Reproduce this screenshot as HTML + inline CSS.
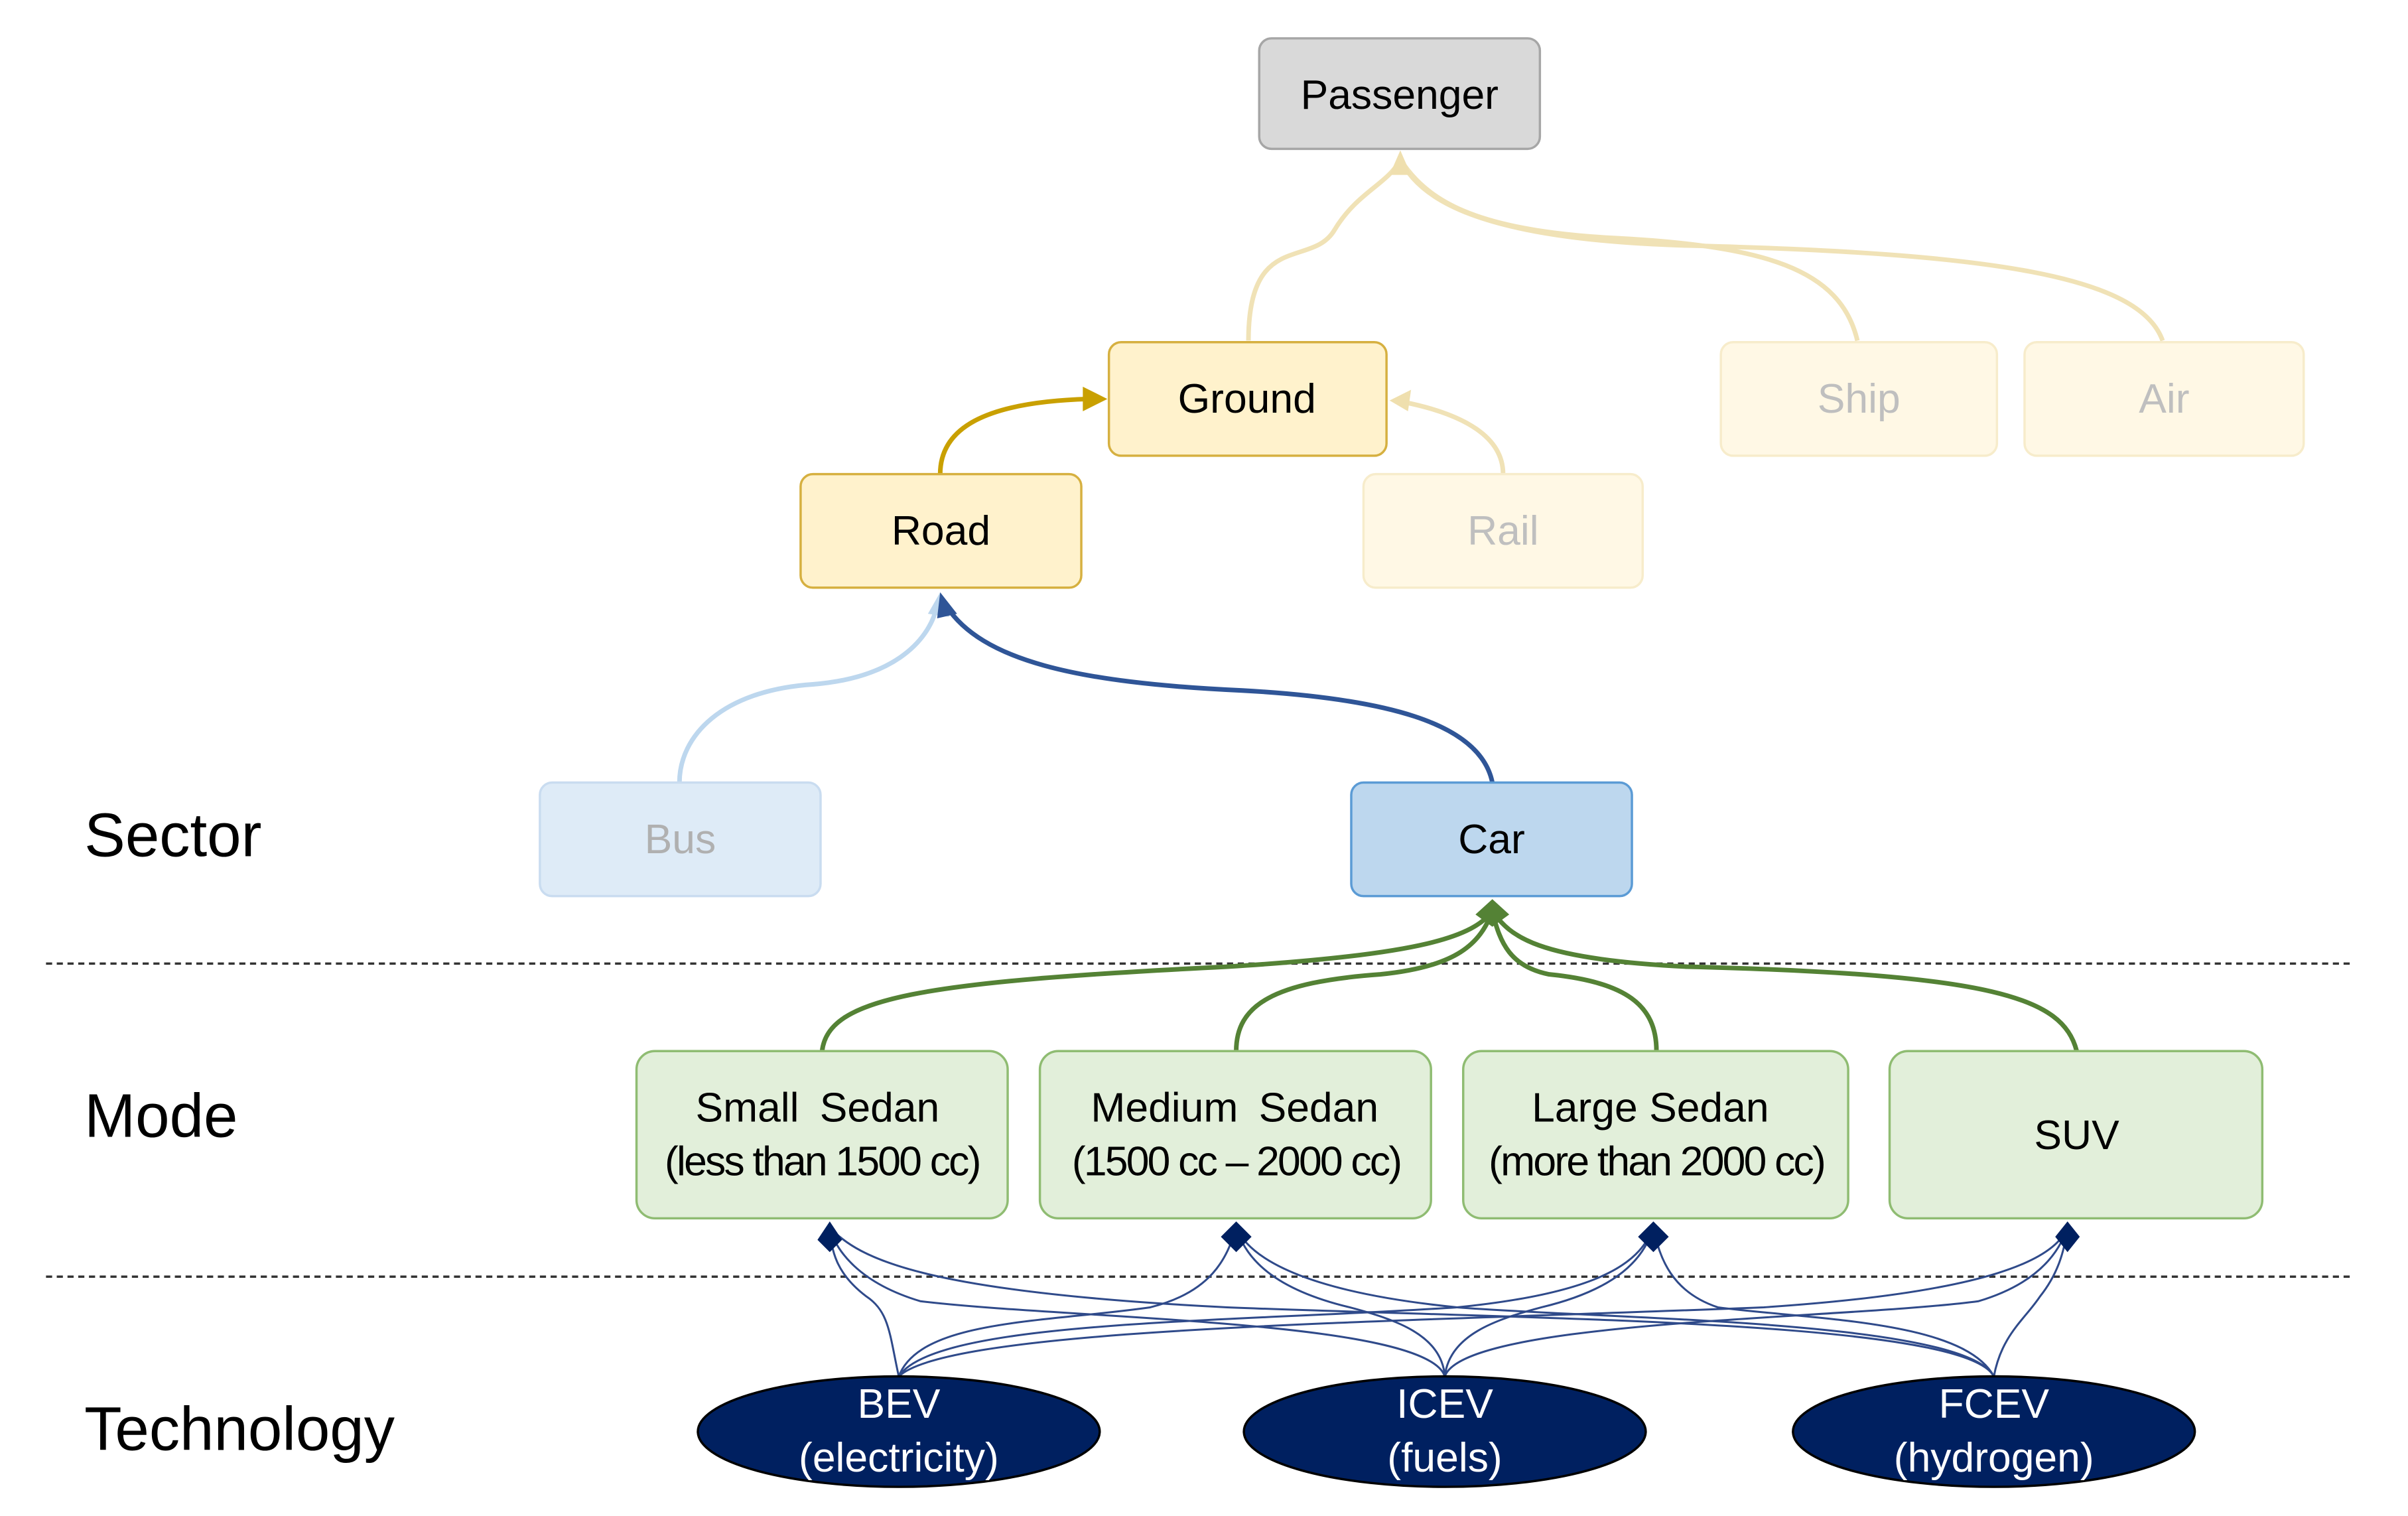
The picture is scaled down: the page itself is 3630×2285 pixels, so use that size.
<!DOCTYPE html>
<html><head><meta charset="utf-8"><style>
html,body{margin:0;padding:0;background:#fff;}
svg{display:block;}
text{font-family:"Liberation Sans",Arial,sans-serif;}
</style></head><body>
<svg width="3630" height="2285" viewBox="0 0 1570 988" preserveAspectRatio="none" xmlns="http://www.w3.org/2000/svg">
<!-- dashed lines -->
<line x1="30" y1="628" x2="1535" y2="628" stroke="#333" stroke-width="1.5" stroke-dasharray="4,3"/>
<line x1="30" y1="832" x2="1535" y2="832" stroke="#333" stroke-width="1.5" stroke-dasharray="4,3"/>

<!-- faint connectors to Passenger -->
<g fill="none" stroke="#f0e2b6" stroke-width="3">
<path d="M814,222 C814,150 855,175 870,150 C885,125 905,120 913,104"/>
<path d="M1211,222 C1200,175 1150,160 1050,155 C960,150 930,130 913,104"/>
<path d="M1410,222 C1395,180 1300,165 1100,160 C960,156 925,128 913,104"/>
<path d="M980,309 C980,285 955,270 915,262"/>
</g>
<path d="M913,98 L920,114 L906,114 z" fill="#efdfae"/>
<path d="M906,261 L920,254 L918,268 z" fill="#efdfae"/>

<!-- Road -> Ground -->
<path d="M613,309 C613,280 640,262 710,260" fill="none" stroke="#c9a000" stroke-width="3"/>
<path d="M722,260 L706,252 L706,268 z" fill="#c9a000"/>

<!-- Bus -> Road -->
<path d="M443,510 C443,480 470,450 530,446 C580,442 605,420 611,395" fill="none" stroke="#bdd7ee" stroke-width="3"/>
<path d="M613,386 L619,402 L605,400 z" fill="#bdd7ee"/>
<!-- Car -> Road -->
<path d="M973,510 C965,470 900,455 810,450 C700,445 640,430 617,395" fill="none" stroke="#2f5597" stroke-width="3"/>
<path d="M613,386 L624,400 L611,403 z" fill="#2f5597"/>

<!-- Mode -> Car (green) -->
<g fill="none" stroke="#548235" stroke-width="3">
<path d="M536,685 C540,650 600,640 800,630 C930,622 960,610 973,594"/>
<path d="M806,685 C806,655 830,640 900,635 C950,630 965,615 973,594"/>
<path d="M1080,685 C1080,655 1060,640 1010,635 C985,630 978,615 973,594"/>
<path d="M1354,685 C1345,650 1300,635 1100,630 C1000,625 985,610 973,594"/>
</g>
<path d="M973,586 L984,596 L973,604 L962,596 z" fill="#548235"/>

<!-- Tech -> Mode (navy) -->
<g fill="none" stroke="#2f4a8a" stroke-width="1.3">
<path d="M586,897 C580,870 580,855 565,845 C545,830 542,815 541,800"/>
<path d="M586,897 C600,860 680,862 750,852 C790,842 800,820 806,800"/>
<path d="M586,897 C610,860 800,862 950,852 C1050,842 1070,820 1078,800"/>
<path d="M586,897 C620,865 900,862 1150,852 C1300,842 1340,820 1348,800"/>
<path d="M942,897 C930,860 700,860 600,848 C560,836 545,815 541,800"/>
<path d="M942,897 C940,870 910,860 880,852 C830,840 812,820 806,800"/>
<path d="M942,897 C945,870 975,860 1005,852 C1055,840 1072,820 1078,800"/>
<path d="M942,897 C955,860 1200,860 1290,848 C1330,836 1343,815 1348,800"/>
<path d="M1300,897 C1280,860 1000,860 800,852 C600,842 560,820 541,800"/>
<path d="M1300,897 C1280,860 1050,860 950,852 C850,842 815,820 806,800"/>
<path d="M1300,897 C1280,860 1180,860 1120,852 C1090,842 1082,820 1078,800"/>
<path d="M1300,897 C1305,870 1320,860 1330,845 C1342,830 1346,815 1348,800"/>
</g>
<g fill="#002060">
<path d="M541,796 L549,808 L541,816 L533,808 z"/>
<path d="M806,796 L816,806 L806,816 L796,806 z"/>
<path d="M1078,796 L1088,806 L1078,816 L1068,806 z"/>
<path d="M1348,796 L1356,806 L1348,816 L1340,806 z"/>
</g>

<!-- Passenger -->
<rect x="821" y="25" width="183" height="72" rx="8" fill="#d9d9d9" stroke="#a6a6a6" stroke-width="1.5"/>
<text x="912.5" y="71" font-size="27" text-anchor="middle" fill="#000">Passenger</text>

<!-- Ground row -->
<rect x="723" y="223" width="181" height="74" rx="8" fill="#fff2cc" stroke="#d6b040" stroke-width="1.5"/>
<text x="813" y="269" font-size="27" text-anchor="middle" fill="#000">Ground</text>
<rect x="1122" y="223" width="180" height="74" rx="8" fill="#fff8e5" stroke="#f7eccb" stroke-width="1.5"/>
<text x="1212" y="269" font-size="27" text-anchor="middle" fill="#bfbfbf">Ship</text>
<rect x="1320" y="223" width="182" height="74" rx="8" fill="#fff8e5" stroke="#f7eccb" stroke-width="1.5"/>
<text x="1411" y="269" font-size="27" text-anchor="middle" fill="#bfbfbf">Air</text>

<!-- Road row -->
<rect x="522" y="309" width="183" height="74" rx="8" fill="#fff2cc" stroke="#d6b040" stroke-width="1.5"/>
<text x="613.5" y="355" font-size="27" text-anchor="middle" fill="#000">Road</text>
<rect x="889" y="309" width="182" height="74" rx="8" fill="#fff8e5" stroke="#f7eccb" stroke-width="1.5"/>
<text x="980" y="355" font-size="27" text-anchor="middle" fill="#bfbfbf">Rail</text>

<!-- Sector -->
<text x="55" y="558" font-size="40" fill="#000">Sector</text>
<rect x="352" y="510" width="183" height="74" rx="8" fill="#deebf7" stroke="#c9dcf0" stroke-width="1.5"/>
<text x="443.5" y="556" font-size="27" text-anchor="middle" fill="#b0b0b0">Bus</text>
<rect x="881" y="510" width="183" height="74" rx="8" fill="#bdd7ee" stroke="#5b9bd5" stroke-width="1.5"/>
<text x="972.5" y="556" font-size="27" text-anchor="middle" fill="#000">Car</text>

<!-- Mode -->
<text x="55" y="741" font-size="40" fill="#000">Mode</text>
<g fill="#e2efda" stroke="#8fbc72" stroke-width="1.5">
<rect x="415" y="685" width="242" height="109" rx="12"/>
<rect x="678" y="685" width="255" height="109" rx="12"/>
<rect x="954" y="685" width="251" height="109" rx="12"/>
<rect x="1232" y="685" width="243" height="109" rx="12"/>
</g>
<g font-size="27" text-anchor="middle" fill="#000">
<text x="533" y="731" word-spacing="6">Small Sedan</text>
<text x="536" y="766" letter-spacing="-1.2">(less than 1500 cc)</text>
<text x="805" y="731" word-spacing="6">Medium Sedan</text>
<text x="806" y="766" letter-spacing="-1.2">(1500 cc – 2000 cc)</text>
<text x="1076" y="731">Large Sedan</text>
<text x="1080" y="766" letter-spacing="-1.2">(more than 2000 cc)</text>
<text x="1354" y="749">SUV</text>
</g>

<!-- Technology -->
<text x="55" y="945" font-size="40" fill="#000">Technology</text>
<g fill="#002060" stroke="#000" stroke-width="1.5">
<ellipse cx="586" cy="933" rx="131" ry="36"/>
<ellipse cx="942" cy="933" rx="131" ry="36"/>
<ellipse cx="1300" cy="933" rx="131" ry="36"/>
</g>
<g font-size="27" text-anchor="middle" fill="#fff">
<text x="586" y="924">BEV</text>
<text x="586" y="959">(electricity)</text>
<text x="942" y="924">ICEV</text>
<text x="942" y="959">(fuels)</text>
<text x="1300" y="924">FCEV</text>
<text x="1300" y="959">(hydrogen)</text>
</g>
</svg>
</body></html>
